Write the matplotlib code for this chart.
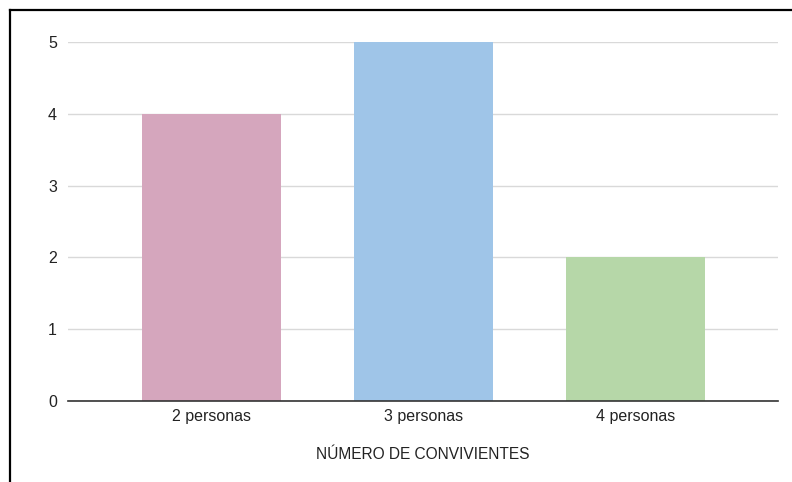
import matplotlib.pyplot as plt
from matplotlib.lines import Line2D

plt.rcParams['font.family'] = ['Liberation Sans', 'DejaVu Sans']

categories = ["2 personas", "3 personas", "4 personas"]
values = [4, 5, 2]
colors = ["#d5a6bd", "#9fc5e8", "#b6d7a8"]
x_title = "NÚMERO DE CONVIVIENTES"

W, H = 792, 482
fig = plt.figure(figsize=(W / 100, H / 100), dpi=100)
ax = fig.add_axes([68 / W, 1 - 401 / H, 710 / W, 359 / H])

pos = list(range(len(categories)))
ax.bar(pos, values, width=0.656, color=colors, zorder=2)

ax.set_xlim(-0.677, 2.672)
ax.set_ylim(0, 5)
ax.set_yticks(range(0, 6))
ax.set_xticks(pos)
ax.set_xticklabels(categories)
ax.grid(axis='y', color='#d9d9d9', linewidth=1, zorder=0)
ax.axhline(0, color='#333333', linewidth=1.2, zorder=3, clip_on=False)

for s in ax.spines.values():
    s.set_visible(False)
ax.tick_params(length=0, labelsize=11.5, colors='#222222')
ax.tick_params(axis='y', pad=8)
ax.tick_params(axis='x', pad=6)
ax.set_xlabel(x_title, fontsize=11.2, color='#222222', labelpad=16)

# frame round the screenshot (left and top edges only)
fig.add_artist(Line2D([9.5 / W, 9.5 / W], [0, 1 - 10 / H], transform=fig.transFigure,
                      color='black', linewidth=1.6))
fig.add_artist(Line2D([9.5 / W, 1], [1 - 10 / H, 1 - 10 / H], transform=fig.transFigure,
                      color='black', linewidth=1.6))

fig.savefig("out.png", dpi=100)
